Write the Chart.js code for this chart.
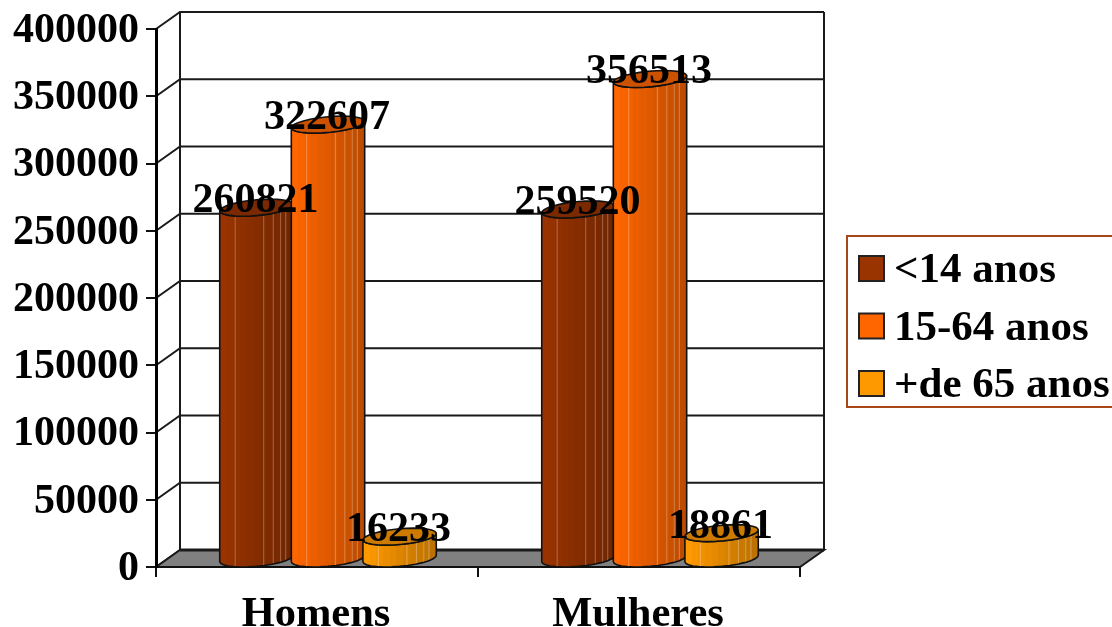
<!DOCTYPE html>
<html>
<head>
<meta charset="utf-8">
<style>
   html, body { margin: 0; padding: 0; background: #fff; overflow: hidden; }
   #canvas-1 { display: block; }
</style>
<script src="https://cdn.jsdelivr.net/npm/chart.js@4"></script>
</head>
<body>
<canvas id="canvas-1" width="1112" height="627"></canvas>
<script>
const categories = ["Homens", "Mulheres"];
const seriesNames = ["<14 anos", "15-64 anos", "+de 65 anos"];
const under14 = [260821, 259520];
const from15to64 = [322607, 356513];
const over65 = [16233, 18861];
const seriesValues = [under14, from15to64, over65];
const seriesColors = ["#993300", "#FF6600", "#FF9900"];
const yTicks = [0, 50000, 100000, 150000, 200000, 250000, 300000, 350000, 400000];

const FONT = "bold 42px 'Liberation Serif'";
const LEGEND_FONT = "bold 43px 'Liberation Serif'";
// offset of the back wall from the front plane
const DEPTH_X = 24;
const DEPTH_Y = 17;
// lines inside a cylinder, as a fraction of its width
const FACET_LINES = [0.21, 0.6, 0.73, 0.83, 0.9];

const shade = (hex, f) => {
   const n = parseInt(hex.slice(1), 16);
   const r = Math.round(((n >> 16) & 255) * f);
   const g = Math.round(((n >> 8) & 255) * f);
   const b = Math.round((n & 255) * f);
   return `rgb(${r}, ${g}, ${b})`;
};

// back wall, floor and the slanted lines that join them to the value axis
const wallPlugin = {
   id: "wall",
   beforeDraw(chart) {
      const { ctx, chartArea: area, scales } = chart;
      const yScale = scales.y;
      const left = area.left + DEPTH_X;
      const right = area.right + DEPTH_X;
      const top = area.top - DEPTH_Y;
      const bottom = area.bottom - DEPTH_Y;
      ctx.save();
      ctx.strokeStyle = "#1a1a1a";
      ctx.lineWidth = 2;
      yTicks.forEach((tick) => {
         const y = yScale.getPixelForValue(tick);
         ctx.beginPath();
         ctx.moveTo(area.left, y);
         ctx.lineTo(left, y - DEPTH_Y);
         ctx.lineTo(right, y - DEPTH_Y);
         ctx.stroke();
      });
      ctx.beginPath();
      ctx.moveTo(left, top);
      ctx.lineTo(left, bottom);
      ctx.moveTo(right, top);
      ctx.lineTo(right, bottom);
      ctx.stroke();

      ctx.fillStyle = "#808080";
      ctx.beginPath();
      ctx.moveTo(area.left, area.bottom);
      ctx.lineTo(left, bottom);
      ctx.lineTo(right, bottom);
      ctx.lineTo(area.right, area.bottom);
      ctx.closePath();
      ctx.fill();
      ctx.stroke();
      ctx.lineWidth = 3;
      ctx.beginPath();
      ctx.moveTo(left, bottom);
      ctx.lineTo(right, bottom);
      ctx.stroke();
      ctx.restore();
   },
};

const ringPoint = (cx, lowY, rx, t) => ({
   x: cx + rx * 0.93 * Math.cos(t) - rx * 0.38 * Math.sin(t),
   y: lowY - DEPTH_Y / 2 + (DEPTH_Y / 2) * Math.sin(t),
});

const drawCylinder = (ctx, bar, baseY, color) => {
   const cx = bar.x + DEPTH_X / 2 - 1;
   const rx = bar.width * 0.51;
   const phi = Math.atan2(0.38, 0.93);
   const start = -phi;
   const end = Math.PI - phi;
   const steps = 14;
   const frontArc = (lowY) => {
      const pts = [];
      for (let i = 0; i <= steps; i++) {
         pts.push(ringPoint(cx, lowY, rx, start + ((end - start) * i) / steps));
      }
      return pts;
   };
   const topArc = frontArc(bar.y);
   const baseArc = frontArc(baseY);

   // side wall, banded from the base colour to a darker edge
   const x0 = topArc[steps].x;
   const x1 = topArc[0].x;
   const gradient = ctx.createLinearGradient(x0, 0, x1, 0);
   const bands = 11;
   for (let i = 0; i < bands; i++) {
      const c = shade(color, 1 - (0.26 * i) / (bands - 1));
      gradient.addColorStop(i / bands, c);
      gradient.addColorStop((i + 1) / bands, c);
   }
   const side = new Path2D();
   topArc.forEach((p, i) => (i ? side.lineTo(p.x, p.y) : side.moveTo(p.x, p.y)));
   baseArc.slice().reverse().forEach((p) => side.lineTo(p.x, p.y));
   side.closePath();

   ctx.save();
   ctx.lineJoin = "round";
   ctx.fillStyle = gradient;
   ctx.strokeStyle = "#111";
   ctx.lineWidth = 1.6;
   ctx.fill(side);

   ctx.save();
   ctx.clip(side);
   ctx.strokeStyle = "rgba(255, 255, 255, 0.3)";
   ctx.lineWidth = 1;
   FACET_LINES.forEach((f) => {
      const x = x0 + (x1 - x0) * f;
      ctx.beginPath();
      ctx.moveTo(x, bar.y - DEPTH_Y);
      ctx.lineTo(x, baseY);
      ctx.stroke();
   });
   ctx.restore();
   ctx.stroke(side);

   // top cap
   ctx.fillStyle = shade(color, 0.8);
   ctx.beginPath();
   for (let i = 0; i < 28; i++) {
      const p = ringPoint(cx, bar.y, rx, (Math.PI * 2 * i) / 28);
      i ? ctx.lineTo(p.x, p.y) : ctx.moveTo(p.x, p.y);
   }
   ctx.closePath();
   ctx.fill();
   ctx.stroke();
   ctx.restore();
};

const cylinderPlugin = {
   id: "cylinders",
   // the plain rectangles are replaced by cylinders drawn in series order
   beforeDatasetDraw() {
      return false;
   },
   afterDatasetsDraw(chart) {
      const { ctx, chartArea: area } = chart;
      const metas = seriesValues.map((_, i) => chart.getDatasetMeta(i));
      categories.forEach((_, c) => {
         metas.forEach((meta, s) => drawCylinder(ctx, meta.data[c], area.bottom, seriesColors[s]));
      });
      ctx.save();
      ctx.font = FONT;
      ctx.fillStyle = "#000";
      ctx.textAlign = "center";
      ctx.textBaseline = "alphabetic";
      metas.forEach((meta, s) => {
         meta.data.forEach((bar, c) => {
            ctx.fillText(String(seriesValues[s][c]), bar.x + DEPTH_X / 2 - 2, bar.y - 4);
         });
      });
      ctx.restore();
   },
};

const legendPlugin = {
   id: "legendBox",
   afterDraw(chart) {
      const { ctx } = chart;
      ctx.save();
      ctx.strokeStyle = "#A8481A";
      ctx.lineWidth = 2;
      ctx.strokeRect(847, 236, 270, 171);
      ctx.font = LEGEND_FONT;
      ctx.textBaseline = "alphabetic";
      chart.data.datasets.forEach((dataset, i) => {
         const rowY = 268 + i * 57.5;
         ctx.fillStyle = dataset.backgroundColor;
         ctx.fillRect(859, rowY - 12, 25, 25);
         ctx.strokeStyle = "#222";
         ctx.strokeRect(859, rowY - 12, 25, 25);
         ctx.fillStyle = "#000";
         ctx.fillText(dataset.label, 894, rowY + 14);
      });
      ctx.restore();
   },
};

new Chart(document.getElementById("canvas-1").getContext("2d"), {
   type: "bar",
   data: {
      labels: categories,
      datasets: seriesNames.map((name, i) => ({
         label: name,
         data: seriesValues[i],
         backgroundColor: seriesColors[i],
         categoryPercentage: 0.667,
         barPercentage: 1,
      })),
   },
   options: {
      responsive: false,
      animation: false,
      layout: { padding: { top: 29, right: 312, bottom: 0, left: 0 } },
      scales: {
         x: {
            afterFit: (scale) => {
               scale.height = 60;
            },
            grid: { drawOnChartArea: false, color: "#111", lineWidth: 2, tickLength: 10, offset: true },
            border: { color: "#111", width: 2 },
            ticks: {
               color: "#000",
               font: { family: "'Liberation Serif'", size: 42.5, weight: "bold" },
               padding: 13,
               labelOffset: -1,
               maxRotation: 0,
            },
         },
         y: {
            min: 0,
            max: 400000,
            afterFit: (scale) => {
               scale.width = 156;
               scale.paddingTop = 0;
               scale.paddingBottom = 0;
            },
            afterBuildTicks: (scale) => {
               scale.ticks = yTicks.map((value) => ({ value }));
            },
            grid: { drawOnChartArea: false, color: "#111", lineWidth: 2, tickLength: 10 },
            border: { color: "#000", width: 3 },
            ticks: {
               color: "#000",
               font: { family: "'Liberation Serif'", size: 42, weight: "bold" },
               padding: 7,
               labelOffset: 2,
               callback: (value) => String(value),
            },
         },
      },
      plugins: {
         legend: { display: false },
         title: { display: false },
         tooltip: { enabled: false },
      },
   },
   plugins: [wallPlugin, cylinderPlugin, legendPlugin],
});
</script>
</body>
</html>
